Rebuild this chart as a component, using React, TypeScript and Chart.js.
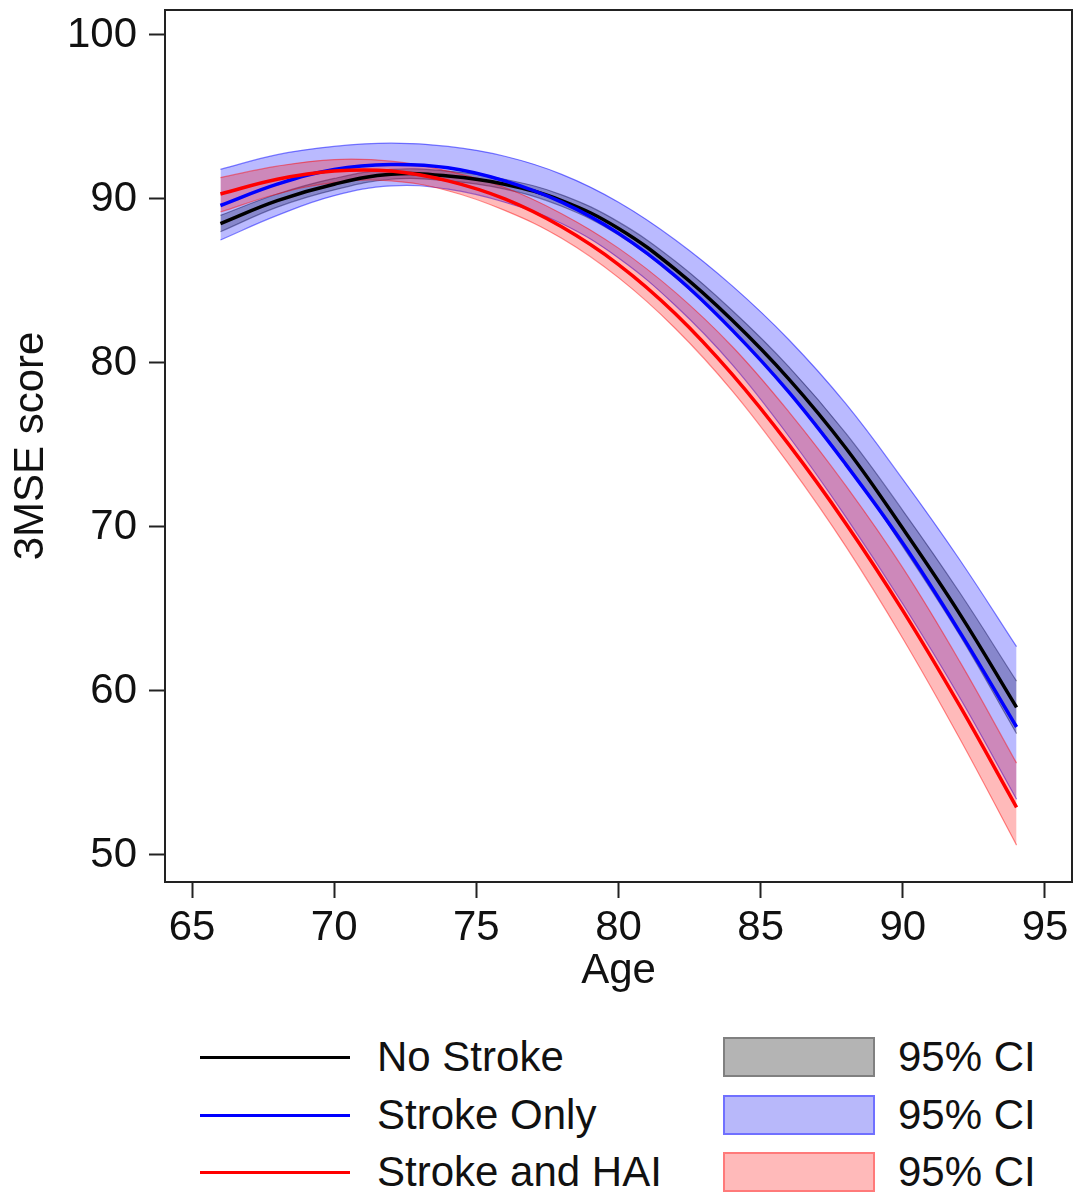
import { useEffect, useRef } from "react";
import { Chart, registerables } from "chart.js";

Chart.register(...registerables);

// ---- data ----
const ages = [66, 68, 70, 72, 74, 76, 78, 80, 82, 84, 86, 88, 90, 92, 94];

const noStroke = [88.5, 89.9, 90.9, 91.5, 91.4, 90.9, 89.9, 88.2, 85.7, 82.6, 79.0, 74.8, 69.9, 64.7, 59.0];
const noStrokeUpper = [89.0, 90.3, 91.25, 91.8, 91.7, 91.2, 90.25, 88.6, 86.2, 83.2, 79.75, 75.7, 71.0, 66.0, 60.6];
const noStrokeLower = [88.0, 89.5, 90.55, 91.2, 91.1, 90.6, 89.55, 87.8, 85.2, 82.0, 78.25, 73.9, 68.8, 63.4, 57.4];

const strokeOnly = [89.6, 90.9, 91.8, 92.1, 91.9, 91.1, 89.8, 87.9, 85.3, 82.0, 78.2, 73.8, 69.0, 63.6, 57.8];
const strokeOnlyUpper = [91.8, 92.7, 93.2, 93.4, 93.2, 92.6, 91.5, 89.8, 87.5, 84.7, 81.4, 77.5, 72.9, 68.0, 62.7];
const strokeOnlyLower = [87.5, 89.0, 90.2, 90.8, 90.6, 89.8, 88.5, 86.4, 83.5, 79.9, 75.5, 70.6, 65.3, 59.6, 53.4];

const strokeHai = [90.3, 91.2, 91.7, 91.7, 91.1, 90.0, 88.3, 86.0, 83.0, 79.3, 75.0, 70.2, 64.9, 59.1, 52.9];
const strokeHaiUpper = [91.3, 92.0, 92.4, 92.3, 91.7, 90.7, 89.1, 87.0, 84.3, 81.0, 77.0, 72.5, 67.5, 61.8, 55.6];
const strokeHaiLower = [89.2, 90.3, 91.0, 91.1, 90.5, 89.3, 87.6, 85.2, 82.1, 78.3, 73.8, 68.8, 63.2, 57.1, 50.6];

const xTicks = [65, 70, 75, 80, 85, 90, 95];
const yTicks = [50, 60, 70, 80, 90, 100];

const seriesNames = ["No Stroke", "Stroke Only", "Stroke and HAI"];
const ciLabel = "95% CI";

const FONT = "'Liberation Sans', Arial, Helvetica, sans-serif";

function pts(vals: number[]) {
  return ages.map((a, i) => ({ x: a, y: vals[i] }));
}

function band(upper: number[], lower: number[], fillColor: string, edge: string, order: number) {
  return [
    {
      data: pts(upper),
      borderColor: edge,
      borderWidth: 1.2,
      backgroundColor: fillColor,
      fill: "+1",
      pointRadius: 0,
      tension: 0.4,
      order,
    },
    {
      data: pts(lower),
      borderColor: edge,
      borderWidth: 1.2,
      backgroundColor: fillColor,
      fill: false,
      pointRadius: 0,
      tension: 0.4,
      order,
    },
  ];
}

function line(vals: number[], color: string, order: number) {
  return {
    data: pts(vals),
    borderColor: color,
    borderWidth: 3.5,
    fill: false,
    pointRadius: 0,
    tension: 0.4,
    order,
  };
}

const legendRows = [
  { name: seriesNames[0], line: "#000000", fill: "#b4b4b4", border: "#808080", y: 1057 },
  { name: seriesNames[1], line: "#0000ff", fill: "#b8b8fa", border: "#7070ff", y: 1115 },
  { name: seriesNames[2], line: "#ff0000", fill: "#ffbaba", border: "#ff7a7a", y: 1172 },
];

export default function App() {
  const ref = useRef<HTMLCanvasElement>(null);

  useEffect(() => {
    if (!ref.current) return;
    const framePlugin = {
      id: "frame",
      afterDraw(chart: any) {
        const { ctx, chartArea: a } = chart;
        ctx.save();
        ctx.strokeStyle = "#222";
        ctx.lineWidth = 2;
        ctx.strokeRect(a.left, a.top, a.right - a.left, a.bottom - a.top);
        ctx.restore();
      },
    };

    const tickFont = { family: FONT, size: 42 };

    const chart = new Chart(ref.current, {
      type: "line",
      data: {
        datasets: [
          line(strokeHai, "#ff0000", 0),
          line(strokeOnly, "#0000ff", 1),
          line(noStroke, "#000000", 2),
          ...band(strokeHaiUpper, strokeHaiLower, "rgba(255,0,0,0.27)", "rgba(255,0,0,0.45)", 3),
          ...band(strokeOnlyUpper, strokeOnlyLower, "rgba(0,0,255,0.27)", "rgba(0,0,255,0.5)", 4),
          ...band(noStrokeUpper, noStrokeLower, "rgba(0,0,0,0.28)", "rgba(0,0,0,0.4)", 5),
        ] as any,
      },
      options: {
        animation: false,
        responsive: false,
        layout: { padding: { left: 0, top: 10, right: 7, bottom: 0 } },
        plugins: { legend: { display: false }, tooltip: { enabled: false } },
        scales: {
          x: {
            type: "linear",
            min: 64.05,
            max: 95.95,
            afterBuildTicks: (s: any) => {
              s.ticks = xTicks.map((v) => ({ value: v }));
            },
            afterFit: (s: any) => {
              s.height = 128;
              s.paddingLeft = 0;
              s.paddingRight = 0;
            },
            grid: { display: true, drawOnChartArea: false, drawTicks: true, tickLength: 16, tickWidth: 2, tickColor: "#222" },
            border: { display: false },
            ticks: { font: tickFont, color: "#111", padding: 5, maxRotation: 0, autoSkip: false },
            title: { display: true, text: "Age", font: tickFont, color: "#111", padding: { top: 0, bottom: 13 } },
          },
          y: {
            type: "linear",
            min: 48.35,
            max: 101.52,
            afterBuildTicks: (s: any) => {
              s.ticks = yTicks.map((v) => ({ value: v }));
            },
            afterFit: (s: any) => {
              s.width = 165;
              s.paddingTop = 0;
              s.paddingBottom = 0;
            },
            grid: { display: true, drawOnChartArea: false, drawTicks: true, tickLength: 16, tickWidth: 2, tickColor: "#222" },
            border: { display: false },
            ticks: { font: tickFont, color: "#111", padding: 12, autoSkip: false },
            title: { display: true, text: "3MSE score", font: tickFont, color: "#111", padding: { top: 6, bottom: 0 } },
          },
        },
      } as any,
      plugins: [framePlugin],
    });
    return () => chart.destroy();
  }, []);

  return (
    <div style={{ position: "absolute", left: 0, top: 0, width: 1079, height: 1201, background: "#fff", overflow: "hidden" }}>
      <canvas ref={ref} width={1079} height={1010} style={{ position: "absolute", left: 0, top: 0, width: 1079, height: 1010 }} />
      {legendRows.map((r) => (
        <div key={r.name}>
          <div style={{ position: "absolute", left: 200, top: r.y - 1.5, width: 150, height: 3, background: r.line }} />
          <div
            style={{
              position: "absolute",
              left: 377,
              top: r.y - 25,
              height: 50,
              lineHeight: "50px",
              fontFamily: FONT,
              fontSize: 42,
              color: "#111",
              whiteSpace: "nowrap",
            }}
          >
            {r.name}
          </div>
          <div
            style={{
              position: "absolute",
              left: 723,
              top: r.y - 20,
              width: 152,
              height: 40,
              boxSizing: "border-box",
              background: r.fill,
              border: `2px solid ${r.border}`,
            }}
          />
          <div
            style={{
              position: "absolute",
              left: 898,
              top: r.y - 25,
              height: 50,
              lineHeight: "50px",
              fontFamily: FONT,
              fontSize: 42,
              color: "#111",
              whiteSpace: "nowrap",
            }}
          >
            {ciLabel}
          </div>
        </div>
      ))}
    </div>
  );
}
